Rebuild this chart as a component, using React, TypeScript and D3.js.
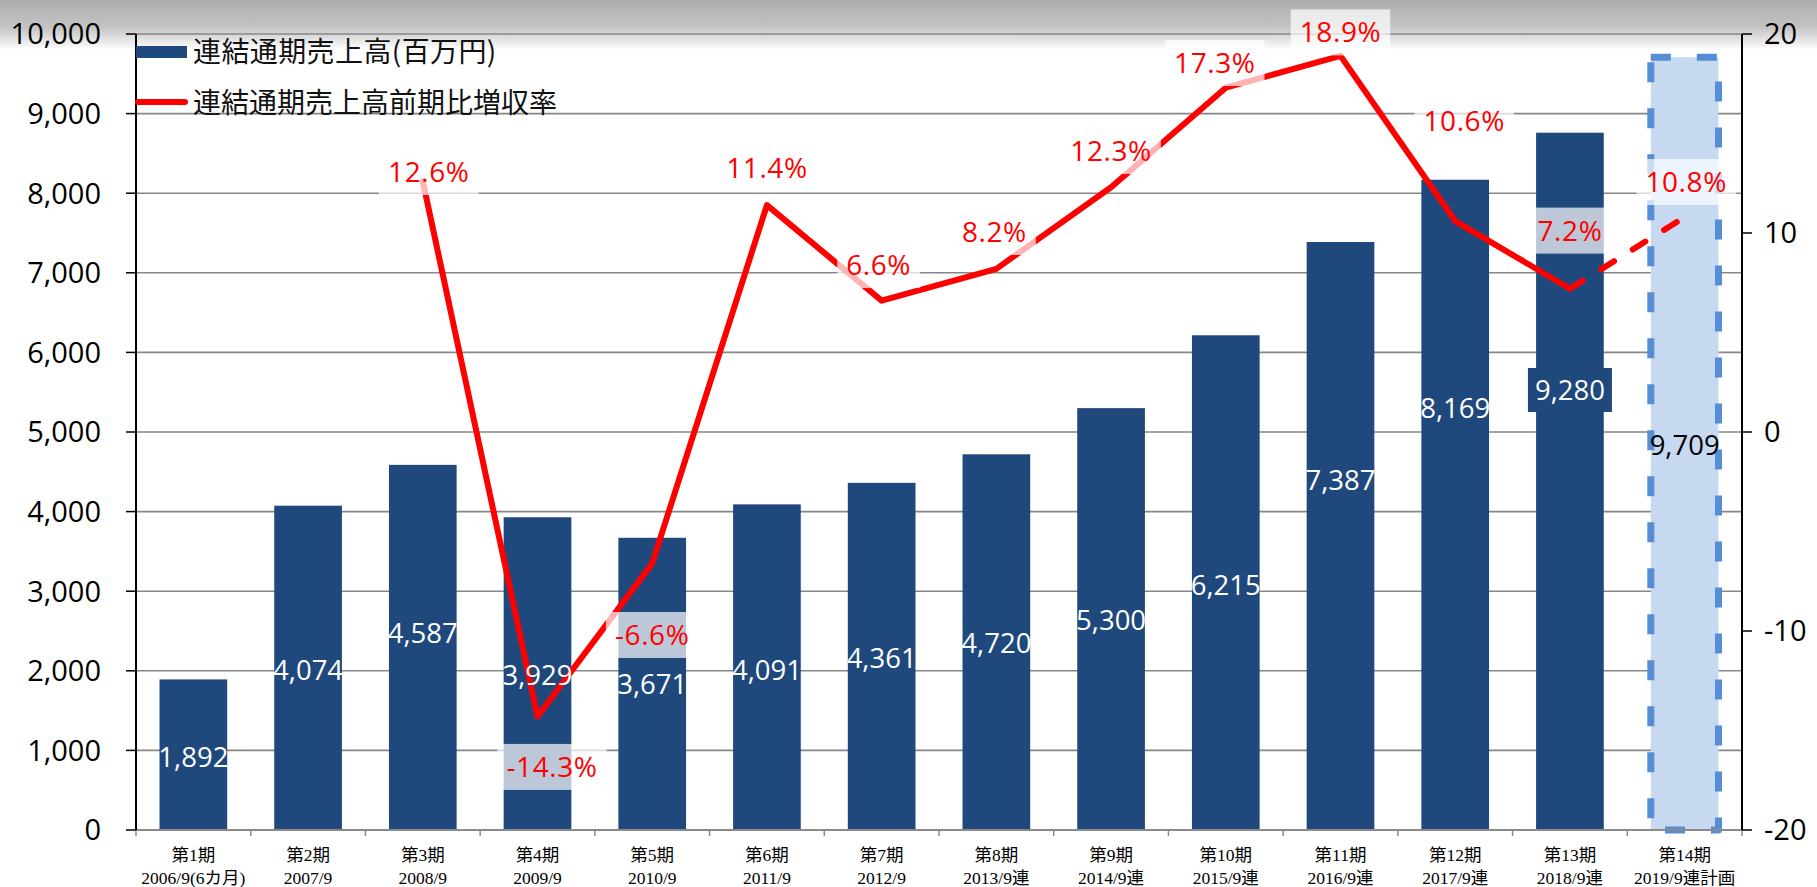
import React from "react";
import * as d3 from "d3";

const periods = ["第1期","第2期","第3期","第4期","第5期","第6期","第7期","第8期","第9期","第10期","第11期","第12期","第13期","第14期"];
const fiscalLabels = ["2006/9(6カ月)","2007/9","2008/9","2009/9","2010/9","2011/9","2012/9","2013/9連","2014/9連","2015/9連","2016/9連","2017/9連","2018/9連","2019/9連計画"];
const salesValues = [1892,4074,4587,3929,3671,4091,4361,4720,5300,6215,7387,8169,8760,9709];
const salesLabels = ["1,892","4,074","4,587","3,929","3,671","4,091","4,361","4,720","5,300","6,215","7,387","8,169","9,280","9,709"];
const growthRates: (number | null)[] = [null,null,12.6,-14.3,-6.6,11.4,6.6,8.2,12.3,17.3,18.9,10.6,7.2,10.8];
const leftTicks = [0,1000,2000,3000,4000,5000,6000,7000,8000,9000,10000];
const rightTicks = [-20,-10,0,10,20];
const legendBar = "連結通期売上高(百万円)";
const legendLine = "連結通期売上高前期比増収率";

// label anchors (in data units) for annotations
const salesLabelAt = [918,2012,2478,1947,1834,2010,2161,2349,2638,3078,4397,5302,5528,4837];
const rateLabelAt: (number | null)[] = [null,null,13.07,-16.83,-10.2,13.27,8.39,10.05,14.12,18.54,20.08,15.65,10.12,12.56];
const rateLabelDx = [0,0,6,14.5,0,0,-3,-2,0,-11,0,9,0,1.5];

const W = 1817, H = 887;
const X0 = 136, X1 = 1742, Y0 = 830, Y1 = 34;
const BAR = "#1f497d";
const NUM_FONT = "'Open Sans', 'Noto Sans', sans-serif";
const CJK_FONT = "'Noto Sans CJK JP', 'Noto Sans', sans-serif";
const SERIF = "'Liberation Serif', 'DejaVu Serif', 'Noto Sans CJK JP', serif";

let ctx: CanvasRenderingContext2D | null = null;
function measure(text: string, font: string) {
  if (!ctx) {
    const c = document.createElement("canvas");
    ctx = c.getContext("2d");
  }
  if (!ctx) return text.length * 15;
  ctx.font = font;
  return ctx.measureText(text).width;
}

export default function App() {
  const idx = periods.map((_, i) => i);
  const x = d3.scaleBand<number>().domain(idx).range([X0, X1]).paddingInner(0.41).paddingOuter(0.205);
  const step = (X1 - X0) / periods.length;
  const yL = d3.scaleLinear().domain([0, 10000]).range([Y0, Y1]);
  const yR = d3.scaleLinear().domain([-20, 20]).range([Y0, Y1]);
  const cx = (i: number) => (x(i) as number) + x.bandwidth() / 2;

  const line = d3.line<[number, number]>().x(d => d[0]).y(d => d[1]);
  const solidPts: [number, number][] = [];
  for (let i = 2; i <= 12; i++) solidPts.push([cx(i), yR(growthRates[i] as number)]);
  const dashPts: [number, number][] = [12, 13].map(i => [cx(i), yR(growthRates[i] as number)]);

  const pctSize = 28;
  const pctLS = 0.6;
  const pctFont = `${pctSize}px 'Open Sans'`;

  return (
    <svg width={W} height={H} style={{ position: "absolute", left: 0, top: 0, background: "#fff" }}>
      <defs>
        <linearGradient id="topShade" x1="0" y1="0" x2="0" y2="1">
          <stop offset="0" stopColor="#adadad" />
          <stop offset="0.55" stopColor="#c4c4c4" />
          <stop offset="1" stopColor="#ffffff" />
        </linearGradient>
      </defs>
      <rect x={0} y={0} width={W} height={50} fill="url(#topShade)" />

      {/* gridlines */}
      {leftTicks.filter(t => t > 0).map(t => (
        <line key={t} x1={X0} x2={X1} y1={yL(t)} y2={yL(t)} stroke="#878787" strokeWidth={1.6} />
      ))}

      {/* bars */}
      {salesValues.map((v, i) =>
        i < 13 ? (
          <rect key={i} x={x(i)} y={yL(v)} width={x.bandwidth()} height={Y0 - yL(v)} fill={BAR} />
        ) : (
          <g key={i}>
            <rect x={x(i)} y={yL(v)} width={x.bandwidth()} height={Y0 - yL(v)} fill="#c6d9f1" />
            <rect x={x(i)} y={yL(v)} width={x.bandwidth()} height={Y0 - yL(v)} fill="none"
              stroke="#558ed5" strokeWidth={7} strokeDasharray="20 26" strokeLinejoin="round" />
          </g>
        )
      )}

      {/* axes */}
      <line x1={X0} x2={X1} y1={Y0} y2={Y0} stroke="#8a8a8a" strokeWidth={2} />
      {d3.range(periods.length + 1).map(k => (
        <line key={k} x1={X0 + k * step} x2={X0 + k * step} y1={Y0} y2={Y0 + 6} stroke="#8a8a8a" strokeWidth={1.5} />
      ))}
      <line x1={X0} x2={X0} y1={Y1} y2={Y0} stroke="#000" strokeWidth={2} />
      {leftTicks.map(t => (
        <g key={t}>
          <line x1={X0 - 10} x2={X0} y1={yL(t)} y2={yL(t)} stroke="#000" strokeWidth={1.5} />
          <text x={101} y={yL(t)} dy="0.36em" textAnchor="end" fontFamily={NUM_FONT} fontSize={29} fill="#000">
            {d3.format(",")(t)}
          </text>
        </g>
      ))}
      <line x1={X1} x2={X1} y1={Y1} y2={Y0} stroke="#000" strokeWidth={2} />
      {rightTicks.map(t => (
        <g key={t}>
          <line x1={X1} x2={X1 + 10} y1={yR(t)} y2={yR(t)} stroke="#000" strokeWidth={1.5} />
          <text x={1764} y={yR(t)} dy="0.36em" textAnchor="start" fontFamily={NUM_FONT} fontSize={29} fill="#000">
            {t}
          </text>
        </g>
      ))}

      {/* x labels */}
      {periods.map((p, i) => (
        <g key={p}>
          <text x={cx(i)} y={861} textAnchor="middle" fontFamily={SERIF} fontSize={17.5} fill="#000">{p}</text>
          <text x={cx(i)} y={884} textAnchor="middle" fontFamily={SERIF} fontSize={17.5} fill="#000">{fiscalLabels[i]}</text>
        </g>
      ))}

      {/* line */}
      <path d={line(solidPts) || ""} fill="none" stroke="#ff0000" strokeWidth={6} strokeLinejoin="round" strokeLinecap="round" />
      <path d={line(dashPts) || ""} fill="none" stroke="#ff0000" strokeWidth={6} strokeDasharray="15 22" strokeLinecap="round" />

      {/* rate labels */}
      {growthRates.map((r, i) => {
        if (r === null) return null;
        const txt = `${r.toFixed(1)}%`;
        const w = measure(txt, pctFont) + pctLS * txt.length + 18;
        const tx = cx(i) + rateLabelDx[i];
        const ty = yR(rateLabelAt[i] as number);
        return (
          <g key={i}>
            <rect x={tx - w / 2} y={ty - 23} width={w} height={46} fill="#ffffff" fillOpacity={0.7} />
            <text x={tx} y={ty} dy="0.36em" textAnchor="middle" fontFamily={NUM_FONT} fontSize={pctSize}
              letterSpacing={pctLS} fill="#ff0000">{txt}</text>
          </g>
        );
      })}

      {/* sales labels */}
      {salesLabels.map((s, i) => {
        const ty = yL(salesLabelAt[i]);
        const boxed = i === 12;
        return (
          <g key={i}>
            {boxed && <rect x={cx(i) - 42} y={ty - 22} width={84} height={44} fill={BAR} />}
            <text x={cx(i)} y={ty} dy="0.36em" textAnchor="middle" fontFamily={NUM_FONT} fontSize={27.5}
              fill={i === 13 ? "#000" : "#fff"}>{s}</text>
          </g>
        );
      })}

      {/* legend */}
      <rect x={136} y={46} width={51} height={12} fill={BAR} />
      <text x={193} y={52} dy="0.36em" fontFamily={CJK_FONT} fontSize={28} letterSpacing={0.4} fill="#111">{legendBar}</text>
      <line x1={138} x2={185} y1={102} y2={102} stroke="#ff0000" strokeWidth={6} strokeLinecap="round" />
      <text x={193} y={103} dy="0.36em" fontFamily={CJK_FONT} fontSize={28} fill="#111">{legendLine}</text>
    </svg>
  );
}
